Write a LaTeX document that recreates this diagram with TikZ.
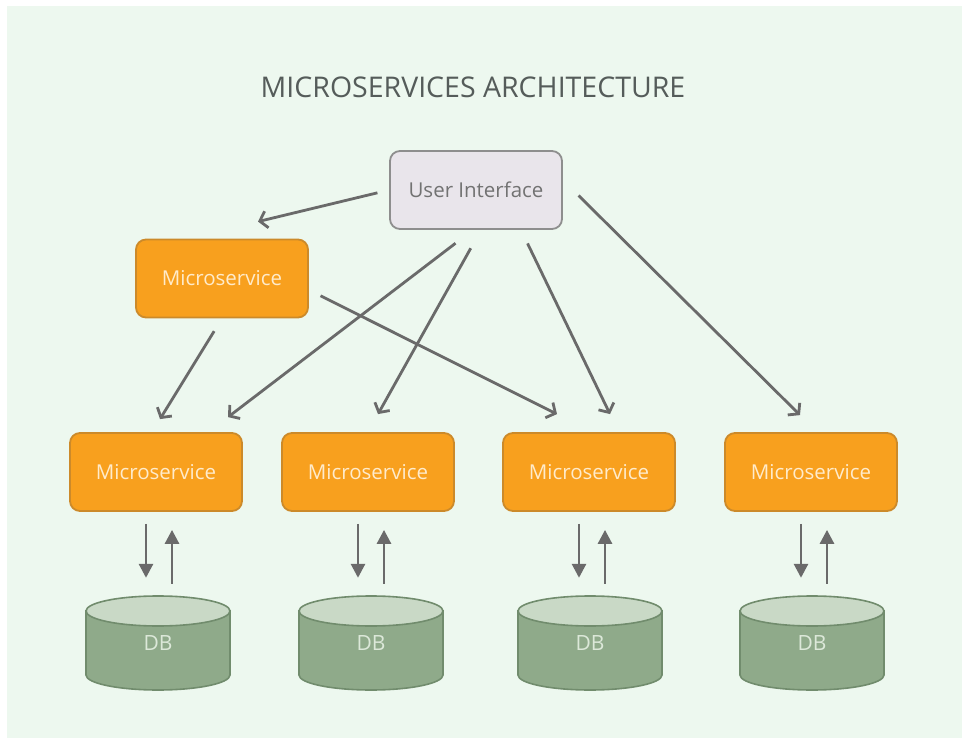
\documentclass[tikz,border=0pt]{standalone}
\usepackage{fontspec}
\setmainfont{Open Sans}
\usetikzlibrary{
  arrows.meta,
  calc,
  positioning,
}
\definecolor{mintbg}{HTML}{EDF8EF}
\definecolor{msorange}{HTML}{F8A01E}
\definecolor{msedge}{HTML}{CC8A2A}
\definecolor{mstext}{HTML}{FFEBCB}
\definecolor{uifill}{HTML}{E9E5EB}
\definecolor{uiedge}{HTML}{8E8E8E}
\definecolor{uitext}{HTML}{727272}
\definecolor{dbbody}{HTML}{8FAA8A}
\definecolor{dbtop}{HTML}{C9D9C6}
\definecolor{dbedge}{HTML}{718C6D}
\definecolor{dbtext}{HTML}{DCE8D9}
\definecolor{arrowgray}{HTML}{6A6A6A}
\definecolor{titlegray}{HTML}{555C5A}
\tikzstyle{service} = [
  rectangle,
  rounded corners=10pt,
  draw=msedge,
  line width=1.8pt,
  fill=msorange,
  text=mstext,
  minimum width=172pt,
  minimum height=78pt,
  font=\fontsize{20.5}{22}\selectfont,
]
\tikzstyle{uibox} = [
  service,
  draw=uiedge,
  fill=uifill,
  text=uitext,
]
\tikzstyle{dbnode} = [
  rectangle,
  minimum width=144pt,
  minimum height=94pt,
  text=dbtext,
  font=\fontsize{21}{22}\selectfont,
]
\tikzstyle{link} = [
  -{Straight Barb[length=7pt,width=17pt]},
  line width=2.8pt,
  arrowgray,
]
\tikzstyle{flow} = [
  -{Triangle[length=14pt,width=14pt]},
  line width=2.8pt,
  arrowgray,
  shorten <=12pt,
  shorten >=18pt,
]

\begin{document}
\begin{tikzpicture}[x=1pt, y=-1pt]
      \useasboundingbox (0, 0) rectangle (962, 738);
      \fill [mintbg] (7, 6) rectangle (962, 738);

      \node [text=titlegray, font=\fontsize{28.5}{32}\selectfont] (title) at (473, 87) {MICROSERVICES ARCHITECTURE};

      \node [uibox] (ui) at (476, 190) {User Interface};
      \node [service] (top) at (222, 278.5) {Microservice};

      % bottom row: services with their databases
      \foreach \x [count=\i] in {156, 368, 589, 811} {
        \node [service] (ms\i) at (\x, 472) {Microservice};
      }
      \foreach \x [count=\i] in {158, 371, 590, 812} {
        \filldraw [fill=dbbody, draw=dbedge, line width=1.6pt]
          (\x-72, 611) -- (\x-72, 675)
          arc [start angle=180, end angle=360, x radius=72pt, y radius=15pt]
          -- (\x+72, 611) -- cycle;
        \filldraw [fill=dbtop, draw=dbedge, line width=1.6pt]
          (\x, 611) ellipse [x radius=72pt, y radius=15pt];
        \node [dbnode] (db\i) at (\x, 643) {DB};
      }

      \foreach \i in {1, ..., 4} {
        \draw [flow] ([xshift=-10pt]ms\i.south) -- ([xshift=-10pt]ms\i.south |- db\i.north);
        \draw [flow] ([xshift=16pt]ms\i.south |- db\i.north) -- ([xshift=16pt]ms\i.south);
      }

      % arrow tips above the targets
      \coordinate (top-in) at ($(top.north) + (36, -17)$);
      \coordinate (ms1-a) at ($(ms1.north) + (4, -13)$);
      \coordinate (ms1-b) at ($(ms1.north) + (72, -15)$);
      \coordinate (ms2-a) at ($(ms2.north) + (10, -18)$);
      \coordinate (ms3-a) at ($(ms3.north) + (-32, -18)$);
      \coordinate (ms3-b) at ($(ms3.north) + (21, -18)$);
      \coordinate (ms4-a) at ($(ms4.north) + (-11, -17)$);

      \draw [link, shorten <=12pt] (ui.west) -- (top-in);
      \draw [link, shorten <=15pt] (top.south) -- (ms1-a);
      \draw [link, shorten <=13pt] ([yshift=-11.5pt]top.east) -- (ms3-a);
      \draw [link, shorten <=22pt] ([xshift=-3pt]ui.south) -- (ms1-b);
      \draw [link, shorten <=21pt] ([xshift=5pt]ui.south) -- (ms2-a);
      \draw [link, shorten <=15pt] ([xshift=45pt]ui.south) -- (ms3-b);
      \draw [link, shorten <=22pt] ([yshift=10pt]ui.east) -- (ms4-a);
    \end{tikzpicture}
\end{document}
